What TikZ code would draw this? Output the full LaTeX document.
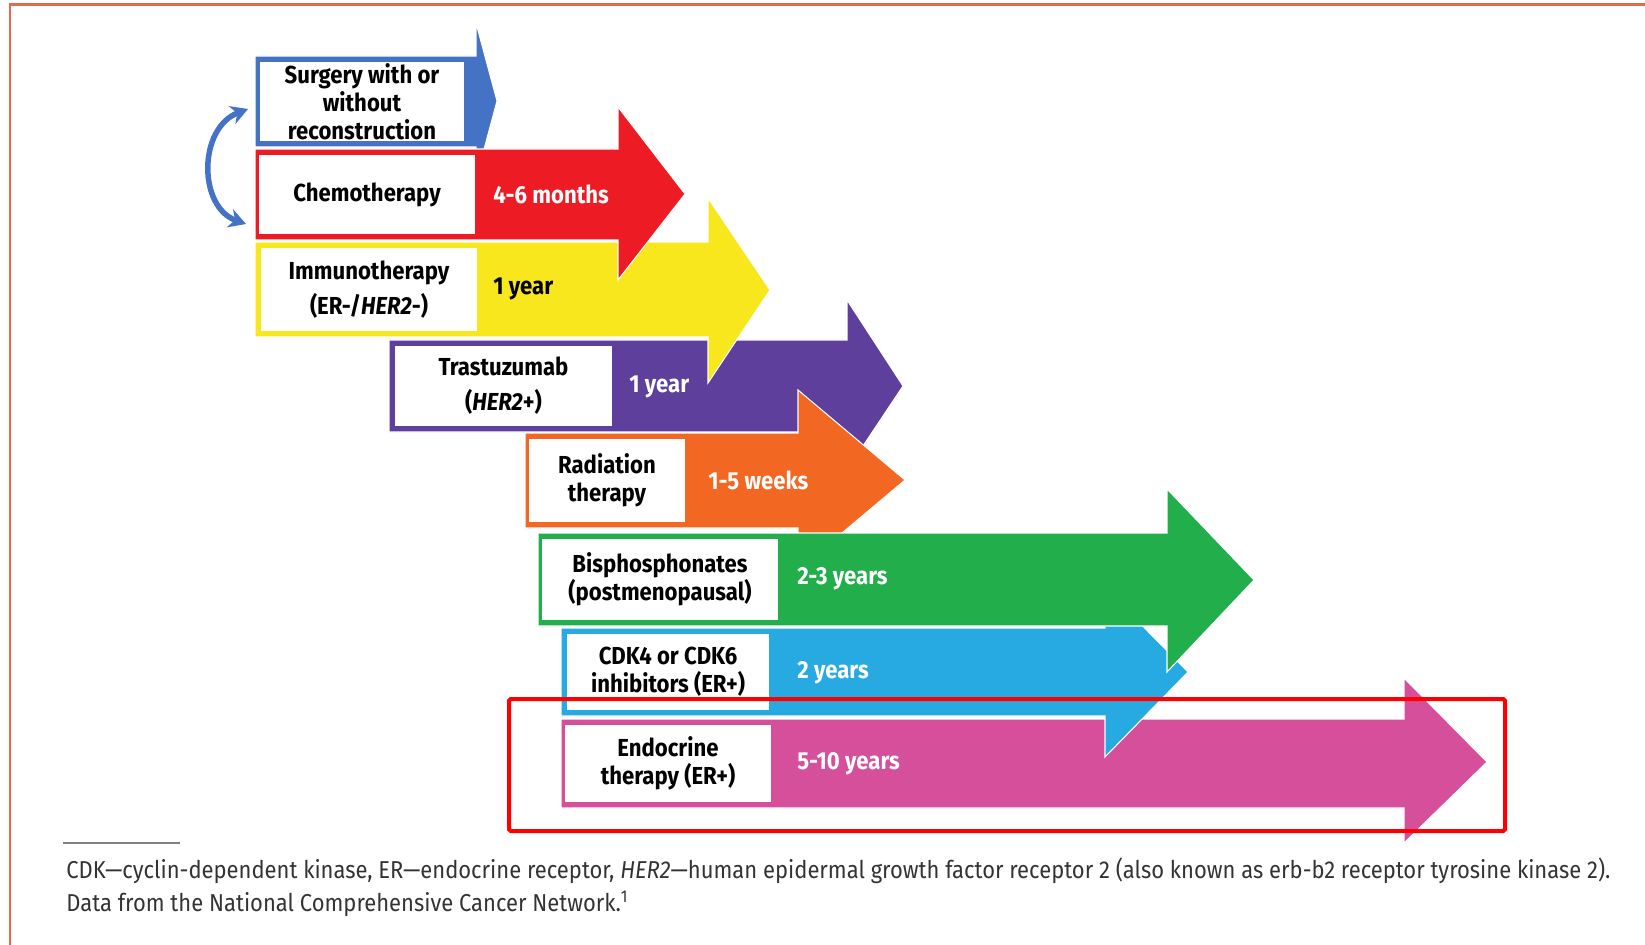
\documentclass[tikz,border=0pt]{standalone}
\usepackage{fontspec}
\setmainfont{Fira Sans}[FakeStretch=0.9]
\usepackage{tikz}
\usetikzlibrary{arrows.meta}
\definecolor{cblue}{HTML}{4472C4}
\definecolor{cred}{HTML}{ED1C24}
\definecolor{cyellow}{HTML}{F8E71C}
\definecolor{cpurple}{HTML}{5E3F9B}
\definecolor{corange}{HTML}{F26722}
\definecolor{cgreen}{HTML}{21AE4B}
\definecolor{ccyan}{HTML}{27AAE1}
\definecolor{cpink}{HTML}{D64F9A}
\definecolor{hlred}{HTML}{FF0000}
\definecolor{framec}{HTML}{E06B4E}
\definecolor{captc}{HTML}{333333}
\tikzset{
  band/.style={draw=white, line width=0.6pt, line join=miter},
  wbox/.style={fill=white, inner sep=0pt, align=center,
               font=\fontsize{14}{16}\selectfont\bfseries},
  dur/.style={anchor=west, inner sep=0pt, text=white,
              font=\fontsize{14}{16}\selectfont\bfseries},
  capt/.style={anchor=west, inner sep=0pt, text=captc,
               font=\fontsize{13.9}{16}\selectfont},
}

\begin{document}
\begin{tikzpicture}[x=0.02cm, y=-0.02cm]
\useasboundingbox (0,0) rectangle (1645,945);

% frame
\draw[framec, line width=0.06cm] (10,945) -- (10,5) -- (1645,5);

% arrows, back to front
\path[band, fill=cblue]   (255,56) -- (476,56) -- (476,23) -- (497,101) -- (476,179) -- (476,147) -- (255,147) -- cycle;
\path[band, fill=cpink]   (561,719) -- (1404,719) -- (1404,678) -- (1487,762) -- (1404,843) -- (1404,808) -- (561,808) -- cycle;
\path[band, fill=ccyan]   (561,628) -- (1105,628) -- (1105,588) -- (1188,672) -- (1105,757) -- (1105,716) -- (561,716) -- cycle;
\path[band, fill=cpurple] (389,340) -- (847,340) -- (847,300) -- (903,386) -- (847,470) -- (847,432) -- (389,432) -- cycle;
\path[band, fill=corange] (525,433) -- (798,433) -- (798,390) -- (905,480) -- (798,570) -- (798,528) -- (525,528) -- cycle;
\path[band, fill=cgreen]  (538,533) -- (1167,533) -- (1167,489) -- (1254,580) -- (1167,672) -- (1167,626) -- (538,626) -- cycle;
\path[band, fill=cyellow] (255,242) -- (708,242) -- (708,198) -- (770,290) -- (708,383) -- (708,337) -- (255,337) -- cycle;
\path[band, fill=cred]    (255,149) -- (618,149) -- (618,107) -- (685,194) -- (618,280) -- (618,240) -- (255,240) -- cycle;

% boxes
\node[wbox, minimum width=4.08cm, minimum height=1.58cm] (surgery) at (362,101.5) {Surgery with or\\without\\reconstruction};
\node[wbox, minimum width=4.32cm, minimum height=1.58cm] (chemo)   at (367,194.5) {Chemotherapy};
\node[wbox, minimum width=4.32cm, minimum height=1.66cm] (immuno)  at (369,289.5) {Immunotherapy\\[4pt](ER-/\textit{HER2}-)};
\node[wbox, minimum width=4.34cm, minimum height=1.60cm] (trast)   at (503.5,386) {Trastuzumab\\[4pt](\textit{HER2}+)};
\node[wbox, minimum width=3.12cm, minimum height=1.66cm] (radio)   at (607,480.5) {Radiation\\therapy};
\node[wbox, minimum width=4.72cm, minimum height=1.62cm] (bisph)   at (660,579.5) {Bisphosphonates\\(postmenopausal)};
\node[wbox, minimum width=4.04cm, minimum height=1.52cm] (cdk)     at (668,672) {CDK4 or CDK6\\inhibitors (ER+)};
\node[wbox, minimum width=4.14cm, minimum height=1.54cm] (endo)    at (668,763.5) {Endocrine\\therapy (ER+)};

% durations
\node[dur] (lchemo)  at (493,194) {4-6 months};
\node[dur, text=black] (limmuno) at (493,289) {1 year};
\node[dur] (ltrast)  at (629,387) {1 year};
\node[dur] (lradio)  at (708,480) {1-5 weeks};
\node[dur] (lbisph)  at (797,579) {2-3 years};
\node[dur] (lcdk)    at (797,673) {2 years};
\node[dur] (lendo)   at (797,764) {5-10 years};

% either order
\coordinate (cu) at (248,109);
\coordinate (cd) at (246,224);
\draw[cblue, line width=0.11cm, {Stealth[length=0.34cm, width=0.38cm]}-{Stealth[length=0.34cm, width=0.38cm]}]
  (cu) .. controls (198,128) and (198,207) .. (cd);

% highlight
\draw[hlred, line width=0.08cm, rounded corners=1pt] (509,699) rectangle (1505,831);

% footnote
\draw[gray, line width=0.6pt] (63,843) -- (180,843);
\node[capt] (cap1) at (66,871) {CDK—cyclin-dependent kinase, ER—endocrine receptor, \textit{HER2}—human epidermal growth factor receptor 2 (also known as erb-b2 receptor tyrosine kinase 2).};
\node[capt] (cap2) at (66,904) {Data from the National Comprehensive Cancer Network.\textsuperscript{1}};
\end{tikzpicture}
\end{document}
